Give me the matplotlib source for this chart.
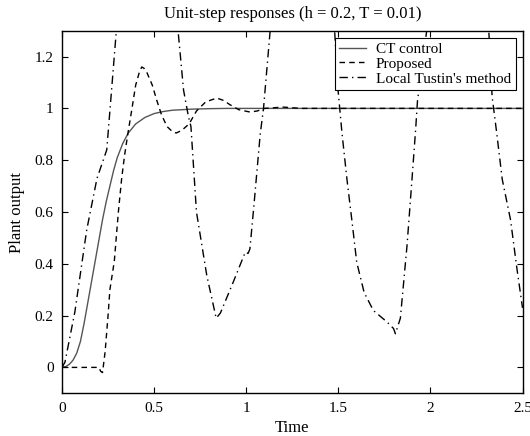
import matplotlib
matplotlib.use("Agg")
import matplotlib.pyplot as plt

plt.rcParams['font.family'] = ['Liberation Serif', 'DejaVu Serif']

# CT control (solid)
t_ct = [0, 0.02, 0.04, 0.06, 0.08, 0.1, 0.12, 0.14, 0.16, 0.18, 0.2, 0.22, 0.24, 0.26, 0.28, 0.3, 0.33, 0.36, 0.4, 0.45, 0.5, 0.55, 0.6, 0.7, 0.8, 0.9, 1.0, 1.5, 2.0, 2.5]
y_ct = [0, 0.003, 0.012, 0.028, 0.055, 0.1, 0.17, 0.25, 0.33, 0.41, 0.49, 0.57, 0.64, 0.70, 0.76, 0.81, 0.865, 0.905, 0.94, 0.965, 0.98, 0.988, 0.993, 0.997, 0.999, 1.0, 1.0, 1.0, 1.0, 1.0]

# Proposed (dashed)
t_pr = [0, 0.2, 0.21, 0.22, 0.234, 0.25, 0.26, 0.284, 0.306, 0.324, 0.34, 0.357, 0.38, 0.40, 0.42, 0.433, 0.445, 0.46, 0.49, 0.515, 0.54, 0.57, 0.6, 0.62, 0.65, 0.69, 0.73, 0.78, 0.84, 0.88, 0.91, 0.96, 1.02, 1.06, 1.1, 1.2, 1.3, 1.5, 2.0, 2.5]
y_pr = [0, 0, -0.015, -0.02, 0.06, 0.2, 0.30, 0.41, 0.6, 0.73, 0.82, 0.9, 1.0, 1.09, 1.14, 1.16, 1.155, 1.14, 1.09, 1.03, 0.976, 0.93, 0.91, 0.905, 0.915, 0.94, 0.99, 1.025, 1.04, 1.03, 1.015, 0.995, 0.986, 0.99, 1.0, 1.005, 1.0, 1.0, 1.0, 1.0]

# Local Tustin's method (dash-dot)
t_lt = [0, 0.016, 0.07, 0.134, 0.19, 0.243, 0.295, 0.38, 0.46, 0.55, 0.63, 0.66, 0.686, 0.70, 0.73, 0.786, 0.837, 0.86, 0.93, 0.995, 1.01, 1.02, 1.04, 1.076, 1.094, 1.13, 1.3, 1.48, 1.50, 1.52, 1.547, 1.575, 1.60, 1.64, 1.69, 1.765, 1.80, 1.81, 1.837, 1.873, 1.90, 1.92, 1.93, 1.98, 2.15, 2.317, 2.335, 2.36, 2.39, 2.435, 2.47, 2.5]
y_lt = [0, 0.02, 0.215, 0.53, 0.73, 0.84, 1.3, 1.55, 1.6, 1.55, 1.3, 1.07, 0.97, 0.93, 0.6, 0.355, 0.19, 0.21, 0.33, 0.445, 0.44, 0.457, 0.61, 0.9, 1.0, 1.3, 1.6, 1.3, 1.06, 0.905, 0.726, 0.56, 0.406, 0.29, 0.22, 0.175, 0.15, 0.13, 0.19, 0.47, 0.726, 0.92, 1.03, 1.3, 1.6, 1.3, 1.046, 0.905, 0.726, 0.57, 0.38, 0.23]

x_ticks = [0, 0.5, 1, 1.5, 2, 2.5]
x_labels = ['0', '0.5', '1', '1.5', '2', '2.5']
y_ticks = [0, 0.2, 0.4, 0.6, 0.8, 1.0, 1.2]
y_labels = ['0', '0.2', '0.4', '0.6', '0.8', '1', '1.2']

fig = plt.figure(figsize=(5.30, 4.36), dpi=100)
ax = fig.add_axes([62/530, 1-393.3/436, (522.5-62)/530, (393.3-30.7)/436])

ax.plot(t_ct, y_ct, '-', color='#555555', lw=1.0, label='CT control')
ax.plot(t_pr, y_pr, '--', color='black', lw=1.0, dashes=(4, 3), label='Proposed')
ax.plot(t_lt, y_lt, '-.', color='black', lw=1.0, dashes=(6, 3, 1, 3), label="Local Tustin's method")

ax.set_xlim(0, 2.5)
ax.set_ylim(-0.1, 1.3)
ax.set_xticks(x_ticks)
ax.set_xticklabels(x_labels)
ax.set_yticks(y_ticks)
ax.set_yticklabels(y_labels)
ax.tick_params(direction='in', top=True, right=True, length=4, width=0.8, labelsize=11, pad=6)
for s in ax.spines.values():
    s.set_linewidth(1.0)

ax.set_title('Unit-step responses (h = 0.2, T = 0.01)', fontsize=12, pad=9)
ax.set_xlabel('Time', fontsize=12, labelpad=4)
ax.set_ylabel('Plant output', fontsize=12, labelpad=7)

leg = ax.legend(loc='upper right', fontsize=11, frameon=True, fancybox=False,
                edgecolor='black', framealpha=1, borderpad=0.3, labelspacing=0.08,
                handlelength=1.75, handletextpad=0.65, borderaxespad=0.45)
leg.get_frame().set_linewidth(0.8)

fig.savefig('out.png', dpi=100)
